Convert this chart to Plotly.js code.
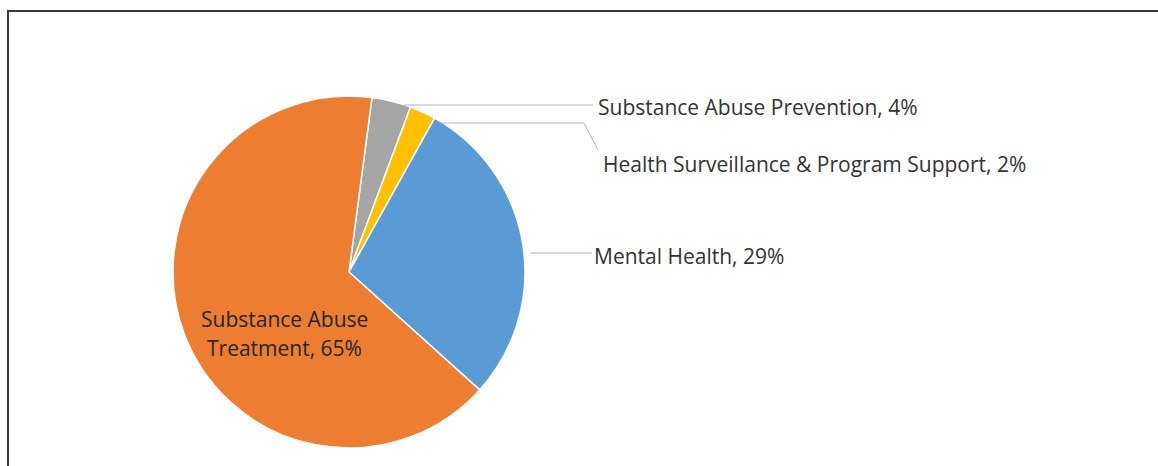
<!DOCTYPE html>
<html>
<head>
<meta charset="utf-8">
<script src="https://cdn.plot.ly/plotly-3.0.1.min.js"></script>
<style>html,body{margin:0;padding:0;background:#fff;}#chart{width:1158px;height:466px;}</style>
</head>
<body>
<div id="chart"></div>
<script>
// Data (order as drawn clockwise from the start angle)
const categories = ['Substance Abuse Prevention', 'Health Surveillance & Program Support', 'Mental Health', 'Substance Abuse Treatment'];
const shares = [3.6, 2.4, 28.6, 65.4];
const sliceColors = ['#A5A5A5', '#FFC000', '#5B9BD5', '#ED7D31'];

const W = 1158, H = 466;
const px = x => x / W;
const py = y => 1 - y / H;

const total = shares.reduce((a, b) => a + b, 0);
const pctText = shares.map(v => Math.round(v / total * 100) + '%');
const labelText = categories.map((c, i) => c + ', ' + pctText[i]);

const FONT = '"Open Sans", "Noto Sans", sans-serif';
const FS = 21;
const TXT = '#333333';

const trace = {
  type: 'pie',
  labels: categories,
  values: shares,
  sort: false,
  direction: 'clockwise',
  rotation: 7.5,
  textinfo: 'none',
  hoverinfo: 'label+percent',
  marker: { colors: sliceColors, line: { color: '#ffffff', width: 1.5 } },
  domain: { x: [px(173), px(525)], y: [py(448), py(96)] },
  showlegend: false
};

const base = {
  xref: 'paper', yref: 'paper', xanchor: 'left', yanchor: 'middle', showarrow: false,
  font: { family: FONT, size: FS, color: TXT }
};
const annotations = [
  { text: labelText[0], x: px(596), y: py(107) },
  { text: labelText[1], x: px(601), y: py(164) },
  { text: labelText[2], x: px(592), y: py(256) },
].map(a => Object.assign({}, base, a));

// inside label of the large slice, split over two lines
const words = categories[3].split(' ');
annotations.push(Object.assign({}, base, {
  xanchor: 'center', x: px(284), y: py(319),
  text: words.slice(0, 2).join(' '),
  font: { family: FONT, size: FS, color: '#262626' }
}));
annotations.push(Object.assign({}, base, {
  xanchor: 'center', x: px(284), y: py(348),
  text: words.slice(2).join(' ') + ', ' + pctText[3],
  font: { family: FONT, size: FS, color: '#262626' }
}));

const leader = { color: '#b3b3b3', width: 1 };
const shapes = [
  { type: 'rect', xref: 'paper', yref: 'paper', x0: px(8), y0: py(11), x1: px(1175), y1: py(490),
    line: { color: '#3a3a3a', width: 2 }, fillcolor: 'rgba(0,0,0,0)' },
  { type: 'line', xref: 'paper', yref: 'paper', x0: px(404), y0: py(105), x1: px(593), y1: py(105), line: leader },
  { type: 'path', xref: 'paper', yref: 'paper',
    path: 'M' + px(441) + ',' + py(123) + ' L' + px(584) + ',' + py(123) + ' L' + px(598) + ',' + py(150),
    line: leader },
  { type: 'line', xref: 'paper', yref: 'paper', x0: px(530), y0: py(253), x1: px(592), y1: py(253), line: leader }
];

const layout = {
  width: W, height: H,
  margin: { l: 0, r: 0, t: 0, b: 0 },
  paper_bgcolor: '#ffffff',
  annotations: annotations,
  shapes: shapes
};

Plotly.newPlot('chart', [trace], layout, { displayModeBar: false, staticPlot: true });
</script>
</body>
</html>
